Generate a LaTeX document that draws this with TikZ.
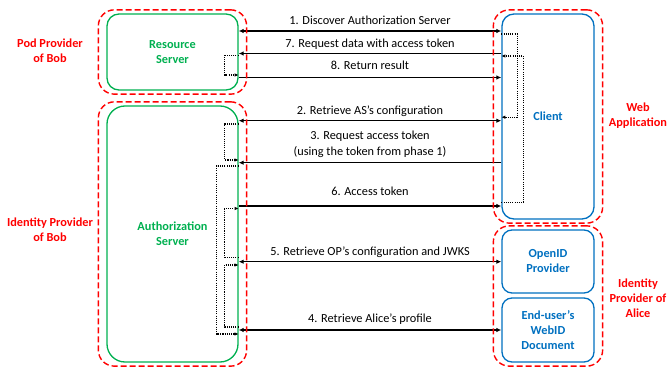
\documentclass[tikz,border=0pt]{standalone}
\usepackage{fontspec}
\setmainfont{Carlito}
\usetikzlibrary{arrows.meta,calc,fit}
\definecolor{podred}{RGB}{255,0,0}
\definecolor{srvgreen}{RGB}{0,176,80}
\definecolor{appblue}{RGB}{0,112,192}
\newcommand{\diagfont}{\fontsize{12.3}{15}\selectfont}
\tikzset{
  server/.style={draw=srvgreen, line width=1.3pt, rounded corners=12pt, text=srvgreen, font=\diagfont\bfseries, align=center, inner sep=0pt, minimum width=131pt},
  agent/.style={draw=appblue, line width=1.3pt, rounded corners=12pt, text=appblue, font=\diagfont\bfseries, align=center, inner sep=0pt, minimum width=92pt},
  realm/.style={draw=podred, line width=1.4pt, dash pattern=on 6pt off 3pt, rounded corners=16pt, inner xsep=8pt, inner ysep=3.5pt},
  owner/.style={text=podred, font=\diagfont\bfseries, align=center, inner sep=0pt},
  msgline/.style={line width=1.2pt, >={Latex[length=5pt,width=4.5pt]}},
  msg/.style={anchor=base, yshift=6pt, inner sep=0pt},
  proc/.style={line width=1.1pt, dash pattern=on 1.1pt off 1.1pt, -{Latex[length=4pt,width=3.5pt]}}
}
\begin{document}
\begin{tikzpicture}[x=1pt, y=-1pt, font=\diagfont]
\useasboundingbox (0,0) rectangle (667,371);
% Bob's servers
\node[server, minimum height=76pt] (rs) at (172.5,52) {Resource\\Server};
\node[server, minimum height=256pt, rounded corners=18pt] (as) at (172.5,234) {Authorization\\Server};
% client and Alice's side
\node[agent, minimum height=205pt] (client) at (548,116.5) {Client};
\node[agent, minimum height=63pt, rounded corners=10pt] (op) at (548,261.5) {OpenID\\Provider};
\node[agent, minimum height=64pt, rounded corners=10pt] (webid) at (548,330) {End-user's\\WebID\\Document};
% rows of the messages
\coordinate (y1) at (0,31);
\coordinate (y7) at (0,53.5);
\coordinate (y8) at (0,77.5);
\coordinate (y2) at (0,120.7);
\coordinate (y3) at (0,162.7);
\coordinate (y6) at (0,206);
\coordinate (y5) at (0,261.7);
\coordinate (y4) at (0,330);
% messages
\draw[msgline, <->] (rs.east |- y1) -- node[msg] (m1) {1. Discover Authorization Server} (client.west |- y1);
\draw[msgline, ->] (client.west |- y7) -- node[msg] (m7) {7. Request data with access token} (rs.east |- y7);
\draw[msgline, ->] (rs.east |- y8) -- node[msg, yshift=2pt] (m8) {8. Return result} (client.west |- y8);
\draw[msgline, <->] (as.east |- y2) -- node[msg] (m2) {2. Retrieve AS's configuration} (client.west |- y2);
\draw[msgline, ->] (client.west |- y3) -- node[above=4pt, inner sep=0pt, align=center] (m3) {3. Request access token\\[1.7pt](using the token from phase 1)} (as.east |- y3);
\draw[msgline, ->] (as.east |- y6) -- node[msg, yshift=4pt] (m6) {6. Access token} (client.west |- y6);
\draw[msgline, <->] (as.east |- y5) -- node[msg] (m5) {5. Retrieve OP's configuration and JWKS} (op.west |- y5);
\draw[msgline, <->] (as.east |- y4) -- node[msg, yshift=1pt] (m4) {4. Retrieve Alice's profile} (webid.west |- y4);
% internal processing
\draw[proc] ($(rs.east |- y7)+(0,2)$) -- ++(-14,0) |- ($(rs.east |- y8)+(0,-2.5)$);
\draw[proc] ($(client.west |- y1)+(0,3)$) -- ++(16,0) |- ($(client.west |- y2)+(0,-3.5)$);
\draw[proc] ($(client.west |- y6)+(0,-3.5)$) -- ++(22,0) |- ($(client.west |- y7)+(0,2.5)$);
\draw[proc] ($(as.east |- y2)+(0,3.3)$) -- ++(-14,0) |- ($(as.east |- y3)+(0,-2.7)$);
\draw[proc] ($(as.east |- y3)+(0,3.3)$) -- ++(-22,0) |- ($(as.east |- y4)+(0,4)$);
\draw[proc] ($(as.east |- y5)+(0,-4.5)$) -- ++(-14,0) |- ($(as.east |- y6)+(0,2.5)$);
\draw[proc] ($(as.east |- y4)+(0,-3)$) -- ++(-14,0) |- ($(as.east |- y5)+(0,3.3)$);
% providers
\node[realm, fit=(rs)] (pod) {};
\node[realm, fit=(as)] (idpbob) {};
\node[realm, fit=(client)] (webapp) {};
\node[realm, fit=(op)(webid)] (idpalice) {};
\node[owner] (podlbl) at (50,50.5) {Pod Provider\\of Bob};
\node[owner] (boblbl) at (50,229.5) {Identity Provider\\of Bob};
\node[owner] (applbl) at (638,116) {Web\\Application};
\node[owner] (alicelbl) at (638,298) {Identity\\Provider of\\Alice};
\end{tikzpicture}
\end{document}
